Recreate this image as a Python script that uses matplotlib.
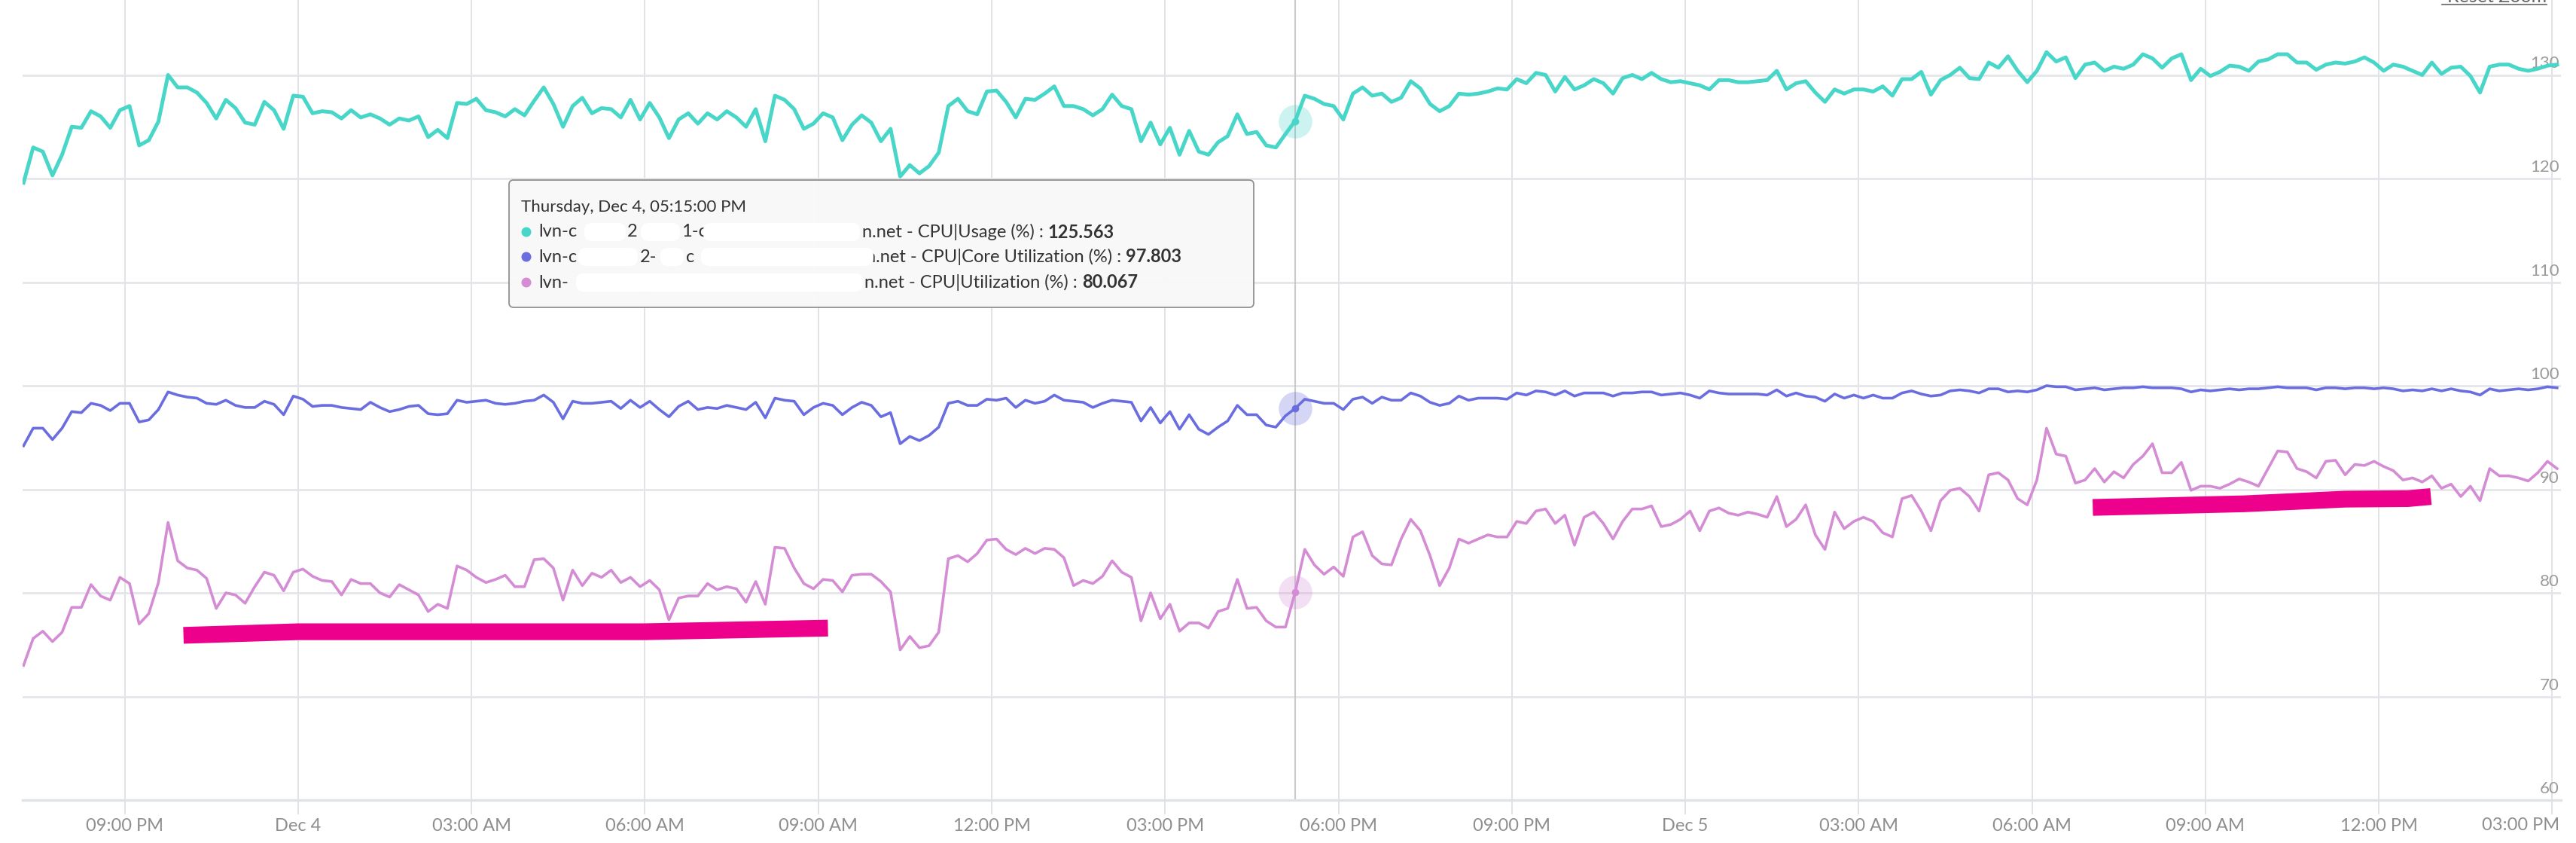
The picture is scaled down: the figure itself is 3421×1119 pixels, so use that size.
import matplotlib
matplotlib.use("Agg")
import matplotlib.pyplot as plt
import matplotlib.dates as mdates
from matplotlib.patches import FancyBboxPatch, Ellipse
from matplotlib.transforms import IdentityTransform, blended_transform_factory, ScaledTranslation
import pandas as pd

plt.rcParams['font.family'] = ['Lato', 'DejaVu Sans']

W, H = 3421, 1119

# 10-minute samples, Dec 3 19:15 -> Dec 5 15:05
times = pd.date_range('2025-12-03 19:15', periods=264, freq='10min')

usage = [
    119.6, 123.0, 122.6, 120.3, 122.3, 125.0, 124.9, 126.5, 126.0, 124.9,
    126.6, 127.0, 123.2, 123.7, 125.5, 130.0, 128.8, 128.8, 128.3, 127.3,
    125.8, 127.6, 126.8, 125.4, 125.2, 127.4, 126.6, 124.8, 128.0, 127.9,
    126.3, 126.5, 126.4, 125.8, 126.6, 125.9, 126.2, 125.8, 125.2, 125.8,
    125.6, 126.0, 124.0, 124.7, 123.9, 127.3, 127.2, 127.7, 126.6, 126.4,
    126.0, 126.7, 126.1, 127.5, 128.8, 127.2, 125.0, 127.0, 127.8, 126.3,
    126.8, 126.7, 125.9, 127.6, 125.7, 127.3,
    125.9, 123.9, 125.7, 126.3, 125.3, 126.3, 125.7, 126.5, 125.9, 125.0,
    126.7, 123.6, 128.0, 127.6, 126.7, 124.8, 125.3, 126.3, 125.9, 123.7,
    125.2, 126.1, 125.4, 123.6, 124.8, 120.2, 121.3, 120.5, 121.2, 122.5,
    127.0, 127.7, 126.5, 126.2, 128.4, 128.5, 127.4, 125.9, 127.7, 127.6,
    128.2, 128.9, 127.0, 127.0, 126.7, 126.1, 126.7, 128.1, 127.0, 126.7,
    123.6, 125.4, 123.3, 124.9, 122.3, 124.6, 122.6, 122.3, 123.5, 124.1,
    126.2, 124.3, 124.5, 123.2, 123.0, 124.3, 125.563,
    128.0, 127.7, 127.2, 127.0, 125.7, 128.2, 128.8, 128.0, 128.2, 127.4,
    127.8, 129.4, 128.7, 127.2, 126.5, 127.0, 128.2, 128.1, 128.2, 128.4,
    128.7, 128.6, 129.6, 129.2, 130.2, 130.0, 128.4, 129.8, 128.6, 129.0,
    129.6, 129.2, 128.2, 129.7, 130.0, 129.6, 130.2, 129.6, 129.3, 129.4,
    129.2, 129.0, 128.6, 129.5, 129.5, 129.3, 129.3, 129.4, 129.5, 130.4,
    128.6, 129.2, 129.4, 128.3, 127.4, 128.6, 128.2, 128.6, 128.6, 128.4,
    128.9, 128.0, 129.6, 129.6, 130.3, 128.1, 129.5, 130.0,
    130.7, 129.7, 129.6, 131.2, 130.7, 131.8, 130.4, 129.3, 130.4, 132.2,
    131.3, 131.7, 129.7, 131.0, 131.2, 130.4, 130.8, 130.6, 131.0, 132.0,
    131.6, 130.7, 131.6, 132.0, 129.5, 130.6, 129.9, 130.3, 130.9, 130.8,
    130.4, 131.3, 131.5, 132.0, 132.0, 131.2, 131.2, 130.5, 131.0, 131.2,
    131.1, 131.3, 131.7, 131.2, 130.4, 131.0, 130.8, 130.4, 130.0, 131.2,
    130.1, 130.7, 130.8, 129.9, 128.3, 130.8, 131.0, 131.0, 130.6, 130.4,
    130.6, 130.9, 131.0,
]

core_util = [
    94.2, 95.9, 95.9, 94.8, 95.9, 97.5, 97.4, 98.3, 98.1, 97.6,
    98.3, 98.3, 96.5, 96.7, 97.7, 99.4, 99.1, 98.9, 98.8, 98.3,
    98.2, 98.6, 98.1, 97.9, 97.9, 98.5, 98.2, 97.2, 99.0, 98.7,
    98.0, 98.1, 98.1, 97.9, 97.8, 97.7, 98.4, 97.9, 97.5, 97.7,
    98.0, 98.1, 97.3, 97.2, 97.3, 98.6, 98.4, 98.5, 98.6, 98.3,
    98.2, 98.3, 98.5, 98.6, 99.1, 98.4, 96.8, 98.5, 98.3, 98.3,
    98.4, 98.5, 97.8, 98.6, 97.9, 98.5,
    97.7, 97.0, 98.0, 98.5, 97.7, 97.9, 97.8, 98.1, 97.9, 97.7,
    98.4, 96.9, 98.8, 98.6, 98.5, 97.2, 97.9, 98.3, 98.1, 97.2,
    97.9, 98.4, 98.1, 97.0, 97.4, 94.4, 95.1, 94.7, 95.2, 96.0,
    98.3, 98.5, 98.1, 98.1, 98.7, 98.6, 98.8, 97.9, 98.6, 98.3,
    98.5, 99.1, 98.6, 98.5, 98.4, 97.9, 98.3, 98.6, 98.5, 98.4,
    96.6, 97.9, 96.4, 97.5, 95.8, 97.2, 95.8, 95.3, 96.0, 96.6,
    98.1, 97.2, 97.2, 96.2, 96.0, 97.1, 97.803,
    98.7, 98.5, 98.3, 98.3, 97.7, 98.7, 98.9, 98.3, 98.9, 98.6,
    98.6, 99.3, 99.0, 98.4, 98.1, 98.3, 99.0, 98.6, 98.8, 98.8,
    98.8, 98.7, 99.3, 99.1, 99.5, 99.4, 99.1, 99.5, 99.0, 99.3,
    99.3, 99.3, 99.0, 99.3, 99.3, 99.4, 99.4, 99.1, 99.2, 99.3,
    99.1, 98.8, 99.5, 99.3, 99.2, 99.2, 99.2, 99.2, 99.1, 99.6,
    99.0, 99.3, 99.0, 98.9, 98.5, 99.2, 98.8, 99.1, 98.8, 99.1,
    98.8, 98.8, 99.3, 99.5, 99.2, 99.0, 99.1, 99.5,
    99.6, 99.5, 99.3, 99.7, 99.7, 99.4, 99.5, 99.4, 99.6, 100.0,
    99.9, 99.9, 99.6, 99.7, 99.8, 99.6, 99.7, 99.8, 99.8, 99.9,
    99.8, 99.8, 99.8, 99.7, 99.4, 99.6, 99.5, 99.6, 99.7, 99.6,
    99.7, 99.7, 99.8, 99.9, 99.8, 99.8, 99.8, 99.6, 99.8, 99.8,
    99.7, 99.8, 99.8, 99.7, 99.8, 99.7, 99.5, 99.6, 99.5, 99.7,
    99.5, 99.7, 99.5, 99.4, 99.1, 99.7, 99.5, 99.6, 99.7, 99.6,
    99.7, 99.9, 99.8,
]

util = [
    73.0, 75.6, 76.3, 75.3, 76.2, 78.6, 78.6, 80.8, 79.7, 79.3,
    81.5, 80.9, 77.0, 78.0, 81.0, 86.8, 83.1, 82.4, 82.2, 81.4,
    78.5, 80.0, 79.8, 79.0, 80.6, 82.0, 81.7, 80.2, 82.0, 82.3,
    81.6, 81.2, 81.1, 79.8, 81.3, 80.9, 80.9, 80.0, 79.6, 80.8,
    80.3, 79.8, 78.2, 78.9, 78.5, 82.6, 82.2, 81.5, 81.0, 81.3,
    81.7, 80.6, 80.6, 83.2, 83.3, 82.4, 79.3, 82.2, 80.7, 81.9,
    81.5, 82.2, 81.0, 81.5, 80.6, 81.2,
    80.3, 77.4, 79.5, 79.7, 79.7, 80.9, 80.3, 80.6, 80.4, 79.1,
    81.1, 78.9, 84.4, 84.3, 82.4, 80.9, 80.4, 81.3, 81.2, 80.1,
    81.7, 81.8, 81.8, 81.1, 80.1, 74.5, 75.8, 74.7, 74.9, 76.2,
    83.3, 83.6, 83.0, 83.8, 85.1, 85.2, 84.2, 83.7, 84.3, 83.8,
    84.3, 84.2, 83.4, 80.7, 81.2, 80.9, 81.6, 83.1, 82.0, 81.5,
    77.3, 80.0, 77.5, 78.9, 76.3, 77.1, 77.1, 76.6, 78.2, 78.5,
    81.3, 78.5, 78.6, 77.3, 76.7, 76.7, 80.067,
    84.2, 82.7, 81.8, 82.5, 81.6, 85.4, 85.9, 83.6, 82.8, 82.7,
    85.2, 87.1, 86.0, 83.6, 80.7, 82.4, 85.2, 84.8, 85.2, 85.6,
    85.4, 85.4, 86.9, 86.7, 87.9, 88.1, 86.7, 87.5, 84.6, 87.3,
    87.8, 86.7, 85.2, 86.9, 88.1, 88.1, 88.4, 86.4, 86.6, 87.1,
    87.9, 86.0, 87.9, 88.2, 87.7, 87.5, 87.8, 87.6, 87.3, 89.3,
    86.4, 87.1, 88.5, 85.6, 84.2, 87.8, 86.2, 86.9, 87.3, 86.9,
    85.8, 85.4, 89.1, 89.4, 87.9, 86.0, 88.9, 89.9,
    90.1, 89.3, 87.9, 91.4, 91.6, 90.9, 89.1, 88.5, 90.9, 95.9,
    93.4, 93.2, 90.6, 90.9, 92.0, 90.7, 91.7, 91.1, 92.4, 93.2,
    94.4, 91.6, 91.6, 92.6, 89.9, 90.3, 90.3, 90.1, 90.5, 91.0,
    90.7, 90.3, 92.0, 93.7, 93.6, 92.0, 91.7, 91.1, 92.7, 92.8,
    91.4, 92.4, 92.3, 92.7, 92.2, 91.8, 90.9, 91.1, 90.7, 91.3,
    90.1, 90.5, 89.3, 90.3, 88.9, 92.0, 91.3, 91.3, 91.1, 90.8,
    91.6, 92.7, 92.0,
]

series_colors = ['#48d6c9', '#6a6de0', '#d48cd5']
series_names = ['CPU|Usage (%)', 'CPU|Core Utilization (%)', 'CPU|Utilization (%)']

hover_time = pd.Timestamp('2025-12-04 17:15')
hover_label = 'Thursday, Dec 4, 05:15:00 PM'
hover_vals = [125.563, 97.803, 80.067]

# hand-drawn highlighter marks on the screenshot
mark1_times = pd.to_datetime(['2025-12-03 22:01', '2025-12-04 00:00', '2025-12-04 06:00', '2025-12-04 09:10'])
mark1_vals = [75.9, 76.25, 76.25, 76.6]
mark2_times = pd.to_datetime(['2025-12-05 07:03', '2025-12-05 09:40', '2025-12-05 11:25', '2025-12-05 12:30', '2025-12-05 12:54'])
mark2_vals = [88.25, 88.6, 89.05, 89.1, 89.3]

y_ticks = list(range(60, 131, 10))
x_end = pd.Timestamp('2025-12-05 15:09')

fig = plt.figure(figsize=(W / 100, H / 100), dpi=100)
ax = fig.add_axes([30 / W, 57 / H, 3371 / W, 1062 / H])
ax.set_xlim(pd.Timestamp('2025-12-03 19:14'), x_end)
ax.set_ylim(60, 60 + 1062 / 13.75)

for sp in ['top', 'left', 'right']:
    ax.spines[sp].set_visible(False)
ax.spines['bottom'].set_color('#dfe2e6')
ax.spines['bottom'].set_linewidth(2.4)
ax.set_axisbelow(True)

ax.set_yticks(y_ticks)
ax.tick_params(axis='y', length=0, labelleft=False)
ax.grid(axis='y', color='#e3e5e8', lw=1.9)
ax.grid(axis='x', color='#e3e3e5', lw=1.4)

ax.xaxis.set_major_locator(mdates.HourLocator(byhour=range(0, 24, 3)))
last_tick = mdates.date2num(pd.Timestamp('2025-12-05 15:00'))


def tick_text(d):
    if d.hour == 0:
        return d.strftime('%b ') + str(d.day)
    return d.strftime('%I:%M %p')


def fmt_tick(x, pos):
    # the last label is pulled inside the plot, drawn separately below
    if abs(x - last_tick) < 1e-6:
        return ''
    return tick_text(mdates.num2date(x))


ax.xaxis.set_major_formatter(plt.FuncFormatter(fmt_tick))
ax.tick_params(axis='x', length=14, width=1.4, color='#e3e3e5', pad=3,
               labelsize=17, labelcolor='#8e8e8e')

xlab_tr = blended_transform_factory(ax.transAxes, ax.transData) + \
    ScaledTranslation(0, -33 / 100, fig.dpi_scale_trans)
ax.text(1 - 2 / 3371, 60, tick_text(mdates.num2date(last_tick)), transform=xlab_tr,
        ha='right', va='center', fontsize=17, color='#8e8e8e', clip_on=False)

ylab_tr = blended_transform_factory(ax.transAxes, ax.transData) + \
    ScaledTranslation(0, 5 / 100, fig.dpi_scale_trans)
for v in y_ticks:
    ax.text(1 - 2 / 3371, v, str(v), transform=ylab_tr, ha='right', va='bottom',
            fontsize=16, color='#9a9a9a', zorder=1)

ax.axvline(hover_time, color='#c9c9c9', lw=1.5, zorder=1.5)

ax.plot(times, usage, color=series_colors[0], lw=3.6, zorder=3)
ax.plot(times, core_util, color=series_colors[1], lw=2.6, zorder=3)
ax.plot(times, util, color=series_colors[2], lw=2.6, zorder=3)

for v, c in zip(hover_vals, series_colors):
    ax.plot(hover_time, v, 'o', ms=32, color=c, alpha=0.28, mec='none', zorder=4)
    ax.plot(hover_time, v, 'o', ms=7, color=c, mec='none', zorder=5)

ax.plot(mark1_times, mark1_vals, color='#ec008c', lw=16, solid_capstyle='butt', zorder=6)
ax.plot(mark2_times, mark2_vals, color='#ec008c', lw=16, solid_capstyle='butt', zorder=6)

# tooltip, laid out in pixels (y measured from top)
ident = IdentityTransform()
box = FancyBboxPatch((676, H - 408), 989, 169, boxstyle='round,pad=0,rounding_size=6',
                     transform=ident, fc='#f8f8f8', ec='#8c8c8c', lw=1.3, alpha=0.96, zorder=10)
fig.add_artist(box)
fig.text(692, H - 275, hover_label, transform=ident, va='center', fontsize=16,
         color='#333333', zorder=11)

rows_y = [308, 341, 375]
fragments = [
    [('lvn-c', 715), ('2', 833), ('1-c', 905)],
    [('lvn-c', 715), ('2-', 850), ('c', 911)],
    [('lvn-', 715)],
]
blobs = [
    [(776, 831), (851, 903), (934, 1142)],
    [(768, 847), (877, 908), (931, 1160)],
    [(765, 1146)],
]
tail_x = [1145, 1150, 1148]

fig.canvas.draw()
renderer = fig.canvas.get_renderer()
for i, y in enumerate(rows_y):
    fig.add_artist(Ellipse((699, H - y), 13, 13, transform=ident, fc=series_colors[i],
                           ec='none', zorder=11))
    for s, x in fragments[i]:
        fig.text(x, H - y, s, transform=ident, va='center', fontsize=17,
                 color='#333333', zorder=11)
    for x0, x1 in blobs[i]:
        fig.add_artist(FancyBboxPatch((x0, H - y - 12), x1 - x0, 24,
                                      boxstyle='round,pad=0,rounding_size=10',
                                      transform=ident, fc='white', ec='none', zorder=12))
    tail = fig.text(tail_x[i], H - y, 'n.net - ' + series_names[i] + ' : ', transform=ident,
                    va='center', fontsize=17, color='#333333', zorder=11)
    bb = tail.get_window_extent(renderer)
    fig.text(bb.x1, H - y, '%.3f' % hover_vals[i], transform=ident, va='center',
             fontsize=17, fontweight='bold', color='#333333', zorder=11)

# "Reset Zoom" button, cut off at the top of the screenshot
fig.text(3382, H - 3, 'Reset Zoom', transform=ident, ha='right', va='baseline',
         fontsize=18, color='#666666')
fig.add_artist(plt.Line2D([3243, 3382], [H - 6, H - 6], transform=ident,
                          color='#666666', lw=1.2))

fig.savefig('out.png', dpi=100)
